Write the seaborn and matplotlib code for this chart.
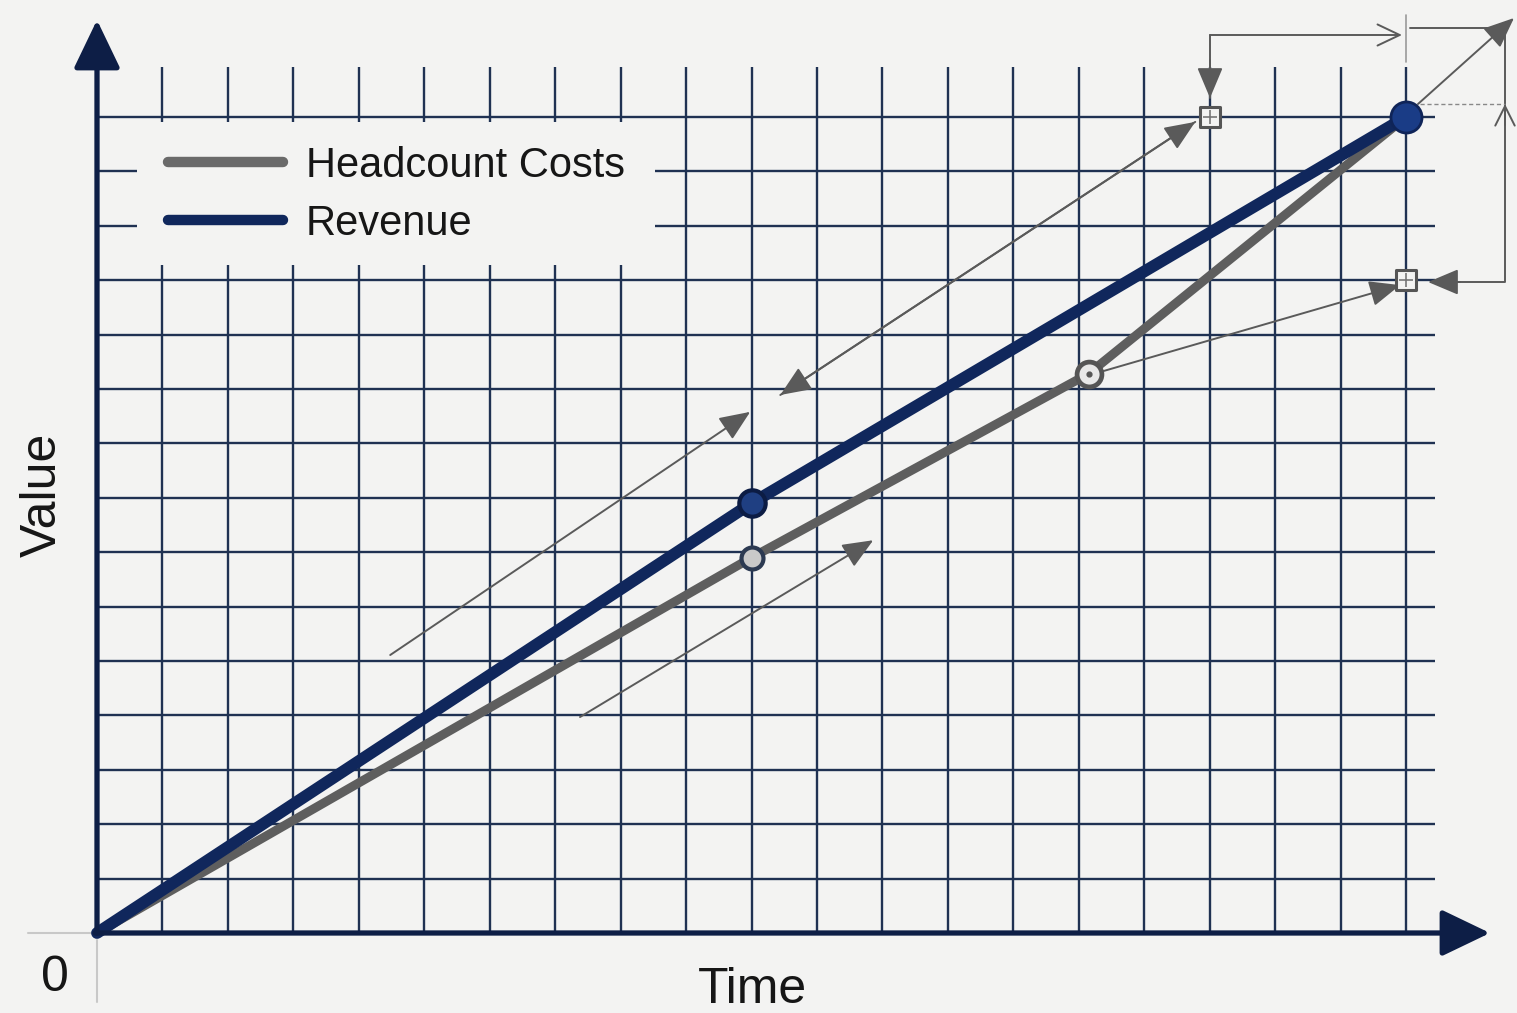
import numpy as np
import pandas as pd
import matplotlib
matplotlib.use("Agg")
import matplotlib.pyplot as plt
from matplotlib.lines import Line2D
from matplotlib.patches import Rectangle
import seaborn as sns

# ---------------- data ----------------
time_rev = [0, 10, 20]
revenue = [0, 7.9, 15.0]
time_hc = [0, 10, 15.15, 20]
headcount = [0, 6.9, 10.28, 15.0]
square_x = [17, 20]
square_y = [15.0, 12.0]
series_names = ["Headcount Costs", "Revenue"]

# annotation geometry (data units)
arrows_single = [((4.48, 5.11), (9.98, 9.58)),
                 ((7.38, 3.97), (11.86, 7.22)),
                 ((15.32, 10.31), (19.91, 11.91))]
arrow_double = ((10.44, 9.89), (16.78, 14.91))

# ---------------- style ----------------
BG = "#f3f3f2"
NAVY = "#0d1e46"
GRID = "#1f3152"
REV = "#10275c"
HC = "#5e5e5e"
ANN = "#5a5a5a"

sns.set_theme(style="white")
plt.rcParams["font.family"] = ["Liberation Sans", "DejaVu Sans"]

# pixel mapping for full-figure axes
PX0, PY0 = 97.0, 933.0
SX, SY = 65.45, 54.4
def X(px): return (px - PX0) / SX
def Y(py): return (PY0 - py) / SY

fig = plt.figure(figsize=(15.17, 10.13), dpi=100, facecolor=BG)
ax = fig.add_axes([0, 0, 1, 1])
ax.set_facecolor(BG)
ax.set_xlim(X(0), X(1517))
ax.set_ylim(Y(1013), Y(0))
ax.axis("off")

# grid
xg = np.arange(1, 21)
yg = np.arange(1, 16)
ax.vlines(xg, 0, Y(67), colors=GRID, lw=1.7, zorder=1)
ax.hlines(yg, 0, X(1435), colors=GRID, lw=1.7, zorder=1)

# legend cover patch
ax.add_patch(Rectangle((X(137), Y(265)), X(655) - X(137), Y(122) - Y(265),
                       facecolor=BG, edgecolor="none", zorder=2))

# light origin ticks
ax.plot([X(28), X(95)], [0, 0], color="#c8c8c8", lw=1.5, zorder=1)
ax.plot([0, 0], [Y(940), Y(1002)], color="#c8c8c8", lw=1.5, zorder=1)

# axes with arrows
axis_arrow = dict(arrowstyle="-|>,head_length=1.5,head_width=0.72",
                  color=NAVY, lw=3.8, shrinkA=0, shrinkB=0, mutation_scale=20)
ax.annotate("", xy=(0, Y(20)), xytext=(0, 0), arrowprops=axis_arrow, zorder=6)
ax.annotate("", xy=(X(1490), 0), xytext=(X(95), 0), arrowprops=axis_arrow, zorder=6)

# data lines via seaborn
df_hc = pd.DataFrame({"Time": time_hc, "Value": headcount})
df_rev = pd.DataFrame({"Time": time_rev, "Value": revenue})
sns.lineplot(data=df_hc, x="Time", y="Value", ax=ax, color=HC, lw=6.5,
             solid_capstyle="round", zorder=4, legend=False)
sns.lineplot(data=df_rev, x="Time", y="Value", ax=ax, color=REV, lw=8.5,
             solid_capstyle="round", zorder=5, legend=False)

# markers
ax.scatter([time_hc[1]], [headcount[1]], s=250, facecolor="#c9c9c9",
           edgecolor="#2c3a52", linewidth=3.0, zorder=7)
ax.scatter([time_hc[2]], [headcount[2]], s=320, facecolor="#e8e8e8",
           edgecolor="#555555", linewidth=3.4, zorder=7)
ax.scatter([time_hc[2]], [headcount[2]], s=12, facecolor="#555555", zorder=8)
ax.scatter([time_rev[1]], [revenue[1]], s=360, facecolor="#1f3f82",
           edgecolor="#0c1c44", linewidth=3, zorder=7)
ax.scatter([time_rev[2]], [revenue[2]], s=500, facecolor="#1a3c86",
           edgecolor="#0f2458", linewidth=2, zorder=7)
ax.scatter(square_x, square_y, s=190, marker="s", facecolor=BG,
           edgecolor="#555555", linewidth=2.2, zorder=7)
ax.scatter(square_x, square_y, s=90, marker="+", color="#777777",
           linewidth=1.2, zorder=8)

# annotation arrows
filled = dict(arrowstyle="-|>,head_length=0.95,head_width=0.4", color=ANN,
              lw=1.4, shrinkA=0, shrinkB=0, mutation_scale=20)
for (a, b) in arrows_single:
    ax.annotate("", xy=b, xytext=a, arrowprops=filled, zorder=6)
ax.annotate("", xy=arrow_double[0], xytext=arrow_double[1],
            arrowprops=filled, zorder=6)
ax.annotate("", xy=arrow_double[1], xytext=arrow_double[0],
            arrowprops=filled, zorder=6)

# top bracket
ax.plot([X(1210), X(1210)], [Y(98), Y(35)], color=ANN, lw=1.4, zorder=6)
ax.annotate("", xy=(X(1210), Y(98)), xytext=(X(1210), Y(60)),
            arrowprops=filled, zorder=6)
ax.annotate("", xy=(X(1402), Y(35)), xytext=(X(1210), Y(35)),
            arrowprops=dict(arrowstyle="->,head_length=0.8,head_width=0.38", color=ANN,
                            lw=1.4, shrinkA=0, shrinkB=0, mutation_scale=20), zorder=6)
ax.plot([X(1406), X(1406)], [Y(15), Y(62)], color="#9a9a9a", lw=1.2, zorder=6)

# diagonal arrow out of top-right
ax.annotate("", xy=(X(1514), Y(18)), xytext=(X(1418), Y(104)),
            arrowprops=filled, zorder=6)

# right bracket
ax.plot([X(1410), X(1505), X(1505), X(1440)], [Y(28), Y(28), Y(282), Y(282)],
        color=ANN, lw=1.4, zorder=6)
ax.annotate("", xy=(X(1428), Y(282)), xytext=(X(1460), Y(282)),
            arrowprops=filled, zorder=6)
ax.plot([X(1420), X(1505)], [Y(104), Y(104)], color="#888888", lw=1.0,
        ls=(0, (3, 2)), zorder=6)
ax.annotate("", xy=(X(1505), Y(104)), xytext=(X(1505), Y(125)),
            arrowprops=dict(arrowstyle="->,head_length=0.7,head_width=0.35", color=ANN,
                            lw=1.4, shrinkA=0, shrinkB=0, mutation_scale=20), zorder=6)

# texts
ax.text(X(752), Y(990), "Time", fontsize=36, ha="center", va="center", color="#161616")
ax.text(X(43), Y(495), "Value", fontsize=36, ha="center", va="center",
        rotation=90, color="#161616")
ax.text(X(55), Y(978), "0", fontsize=36, ha="center", va="center", color="#161616")

# legend
handles = [Line2D([0], [0], color="#6a6a6a", lw=7.5, solid_capstyle="round"),
           Line2D([0], [0], color=REV, lw=7.5, solid_capstyle="round")]
ax.legend(handles, series_names, loc="upper left",
          bbox_to_anchor=(168 / 1517, 1 - 146 / 1013), frameon=False,
          fontsize=30, handlelength=2.75, handletextpad=0.55, labelspacing=0.42,
          borderpad=0, borderaxespad=0, labelcolor="#161616")

fig.savefig("out.png", dpi=100, facecolor=BG)
